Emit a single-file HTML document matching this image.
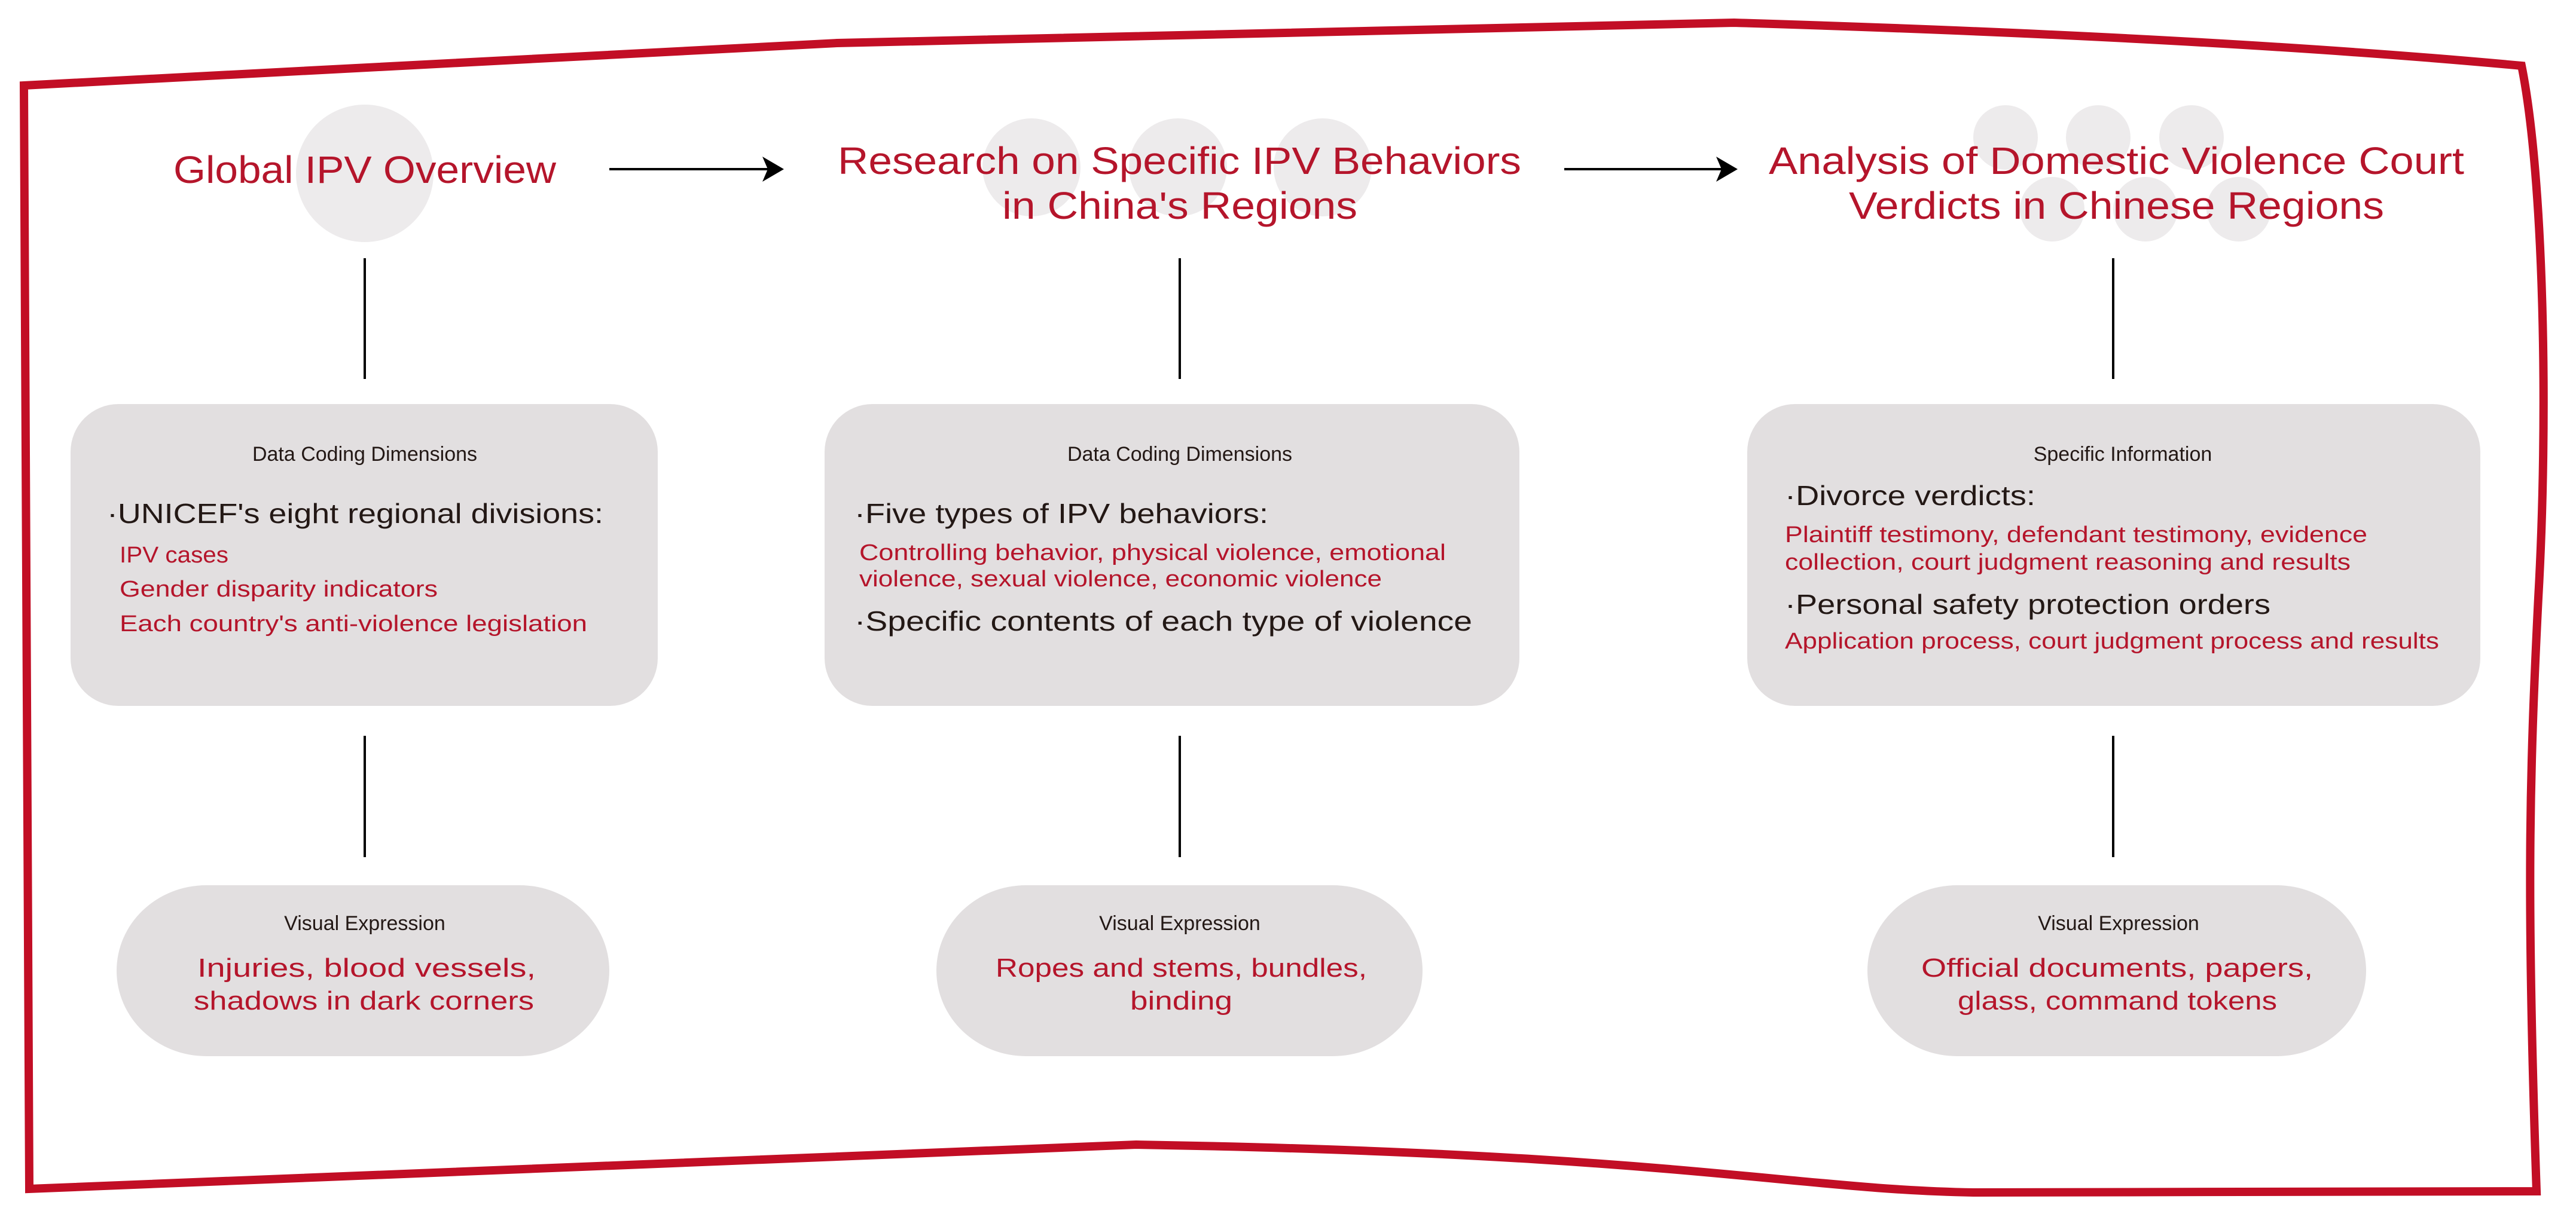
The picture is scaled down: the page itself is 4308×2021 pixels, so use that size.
<!DOCTYPE html>
<html><head><meta charset="utf-8"><style>
html,body{margin:0;padding:0;background:#fff;}
svg{display:block;}
text{font-family:"Liberation Sans",sans-serif;}
.t{fill:#b5152b;font-size:64px;}
.h{fill:#231815;font-size:34px;text-anchor:middle;}
.b{fill:#231815;font-size:46px;}
.r{fill:#b5152b;font-size:38px;}
.p{fill:#b5152b;font-size:44px;}
</style></head><body>
<svg width="4308" height="2021" viewBox="0 0 4308 2021" xmlns="http://www.w3.org/2000/svg">
<rect width="4308" height="2021" fill="#fff"/>
<path d="M40,143 L1400,72 L2900,38 Q3700,62 4217,110 C4255,300 4262,700 4245,1000 C4230,1300 4225,1500 4242,1993 L3300,1995 C3000,1990 2800,1930 1900,1915 L49,1989 Z" fill="none" stroke="#c20e25" stroke-width="14" stroke-linejoin="miter"/>

<g fill="#edebec">
<circle cx="610" cy="290" r="115"/>
<circle cx="1725" cy="280" r="82"/><circle cx="1970" cy="280" r="82"/><circle cx="2212" cy="280" r="82"/>
<circle cx="3354" cy="230" r="54"/><circle cx="3509" cy="230" r="54"/><circle cx="3665" cy="230" r="54"/>
<circle cx="3432" cy="350" r="54"/><circle cx="3588" cy="350" r="54"/><circle cx="3744" cy="350" r="54"/>
</g>

<text class="t" x="290" y="306" textLength="640" lengthAdjust="spacingAndGlyphs">Global IPV Overview</text>
<text class="t" x="1401" y="291" textLength="1143" lengthAdjust="spacingAndGlyphs">Research on Specific IPV Behaviors</text>
<text class="t" x="1676" y="366" textLength="594" lengthAdjust="spacingAndGlyphs">in China's Regions</text>
<text class="t" x="2958" y="291" textLength="1163" lengthAdjust="spacingAndGlyphs">Analysis of Domestic Violence Court</text>
<text class="t" x="3092" y="366" textLength="895" lengthAdjust="spacingAndGlyphs">Verdicts in Chinese Regions</text>

<g stroke="#000" stroke-width="4">
<line x1="1019" y1="283" x2="1295" y2="283"/>
<line x1="2616" y1="283" x2="2890" y2="283"/>
</g>
<path d="M1311,283 L1275,262 L1284,283 L1275,304 Z" fill="#000"/>
<path d="M2906,283 L2870,262 L2879,283 L2870,304 Z" fill="#000"/>

<g stroke="#000" stroke-width="4">
<line x1="610" y1="432" x2="610" y2="634"/>
<line x1="1973" y1="432" x2="1973" y2="634"/>
<line x1="3534" y1="432" x2="3534" y2="634"/>
<line x1="610" y1="1231" x2="610" y2="1434"/>
<line x1="1973" y1="1231" x2="1973" y2="1434"/>
<line x1="3534" y1="1231" x2="3534" y2="1434"/>
</g>

<g fill="#e2dfe0">
<rect x="118" y="676" width="982" height="505" rx="80"/>
<rect x="1379" y="676" width="1162" height="505" rx="80"/>
<rect x="2922" y="676" width="1226" height="505" rx="80"/>
<rect x="195" y="1481" width="824" height="286" rx="150" ry="143"/>
<rect x="1566" y="1481" width="813" height="286" rx="150" ry="143"/>
<rect x="3123" y="1481" width="834" height="286" rx="150" ry="143"/>
</g>

<text class="h" x="610" y="771">Data Coding Dimensions</text>
<text class="b" x="179" y="875" textLength="830" lengthAdjust="spacingAndGlyphs">·UNICEF's eight regional divisions:</text>
<text class="r" x="200" y="941" textLength="182" lengthAdjust="spacingAndGlyphs">IPV cases</text>
<text class="r" x="200" y="998" textLength="532" lengthAdjust="spacingAndGlyphs">Gender disparity indicators</text>
<text class="r" x="200" y="1056" textLength="782" lengthAdjust="spacingAndGlyphs">Each country's anti-violence legislation</text>

<text class="h" x="1973" y="771">Data Coding Dimensions</text>
<text class="b" x="1429" y="875" textLength="692" lengthAdjust="spacingAndGlyphs">·Five types of IPV behaviors:</text>
<text class="r" x="1437" y="937" textLength="981" lengthAdjust="spacingAndGlyphs">Controlling behavior, physical violence, emotional</text>
<text class="r" x="1437" y="981" textLength="874" lengthAdjust="spacingAndGlyphs">violence, sexual violence, economic violence</text>
<text class="b" x="1429" y="1055" textLength="1033" lengthAdjust="spacingAndGlyphs">·Specific contents of each type of violence</text>

<text class="h" x="3550" y="771">Specific Information</text>
<text class="b" x="2985" y="845" textLength="419" lengthAdjust="spacingAndGlyphs">·Divorce verdicts:</text>
<text class="r" x="2985" y="907" textLength="974" lengthAdjust="spacingAndGlyphs">Plaintiff testimony, defendant testimony, evidence</text>
<text class="r" x="2985" y="953" textLength="946" lengthAdjust="spacingAndGlyphs">collection, court judgment reasoning and results</text>
<text class="b" x="2985" y="1027" textLength="812" lengthAdjust="spacingAndGlyphs">·Personal safety protection orders</text>
<text class="r" x="2985" y="1085" textLength="1094" lengthAdjust="spacingAndGlyphs">Application process, court judgment process and results</text>

<text class="h" x="610" y="1556">Visual Expression</text>
<text class="p" x="330" y="1634" textLength="566" lengthAdjust="spacingAndGlyphs">Injuries, blood vessels,</text>
<text class="p" x="324" y="1689" textLength="569" lengthAdjust="spacingAndGlyphs">shadows in dark corners</text>

<text class="h" x="1973" y="1556">Visual Expression</text>
<text class="p" x="1665" y="1634" textLength="621" lengthAdjust="spacingAndGlyphs">Ropes and stems, bundles,</text>
<text class="p" x="1890" y="1689" textLength="171" lengthAdjust="spacingAndGlyphs">binding</text>

<text class="h" x="3543" y="1556">Visual Expression</text>
<text class="p" x="3213" y="1634" textLength="655" lengthAdjust="spacingAndGlyphs">Official documents, papers,</text>
<text class="p" x="3274" y="1689" textLength="534" lengthAdjust="spacingAndGlyphs">glass, command tokens</text>
</svg>
</body></html>
